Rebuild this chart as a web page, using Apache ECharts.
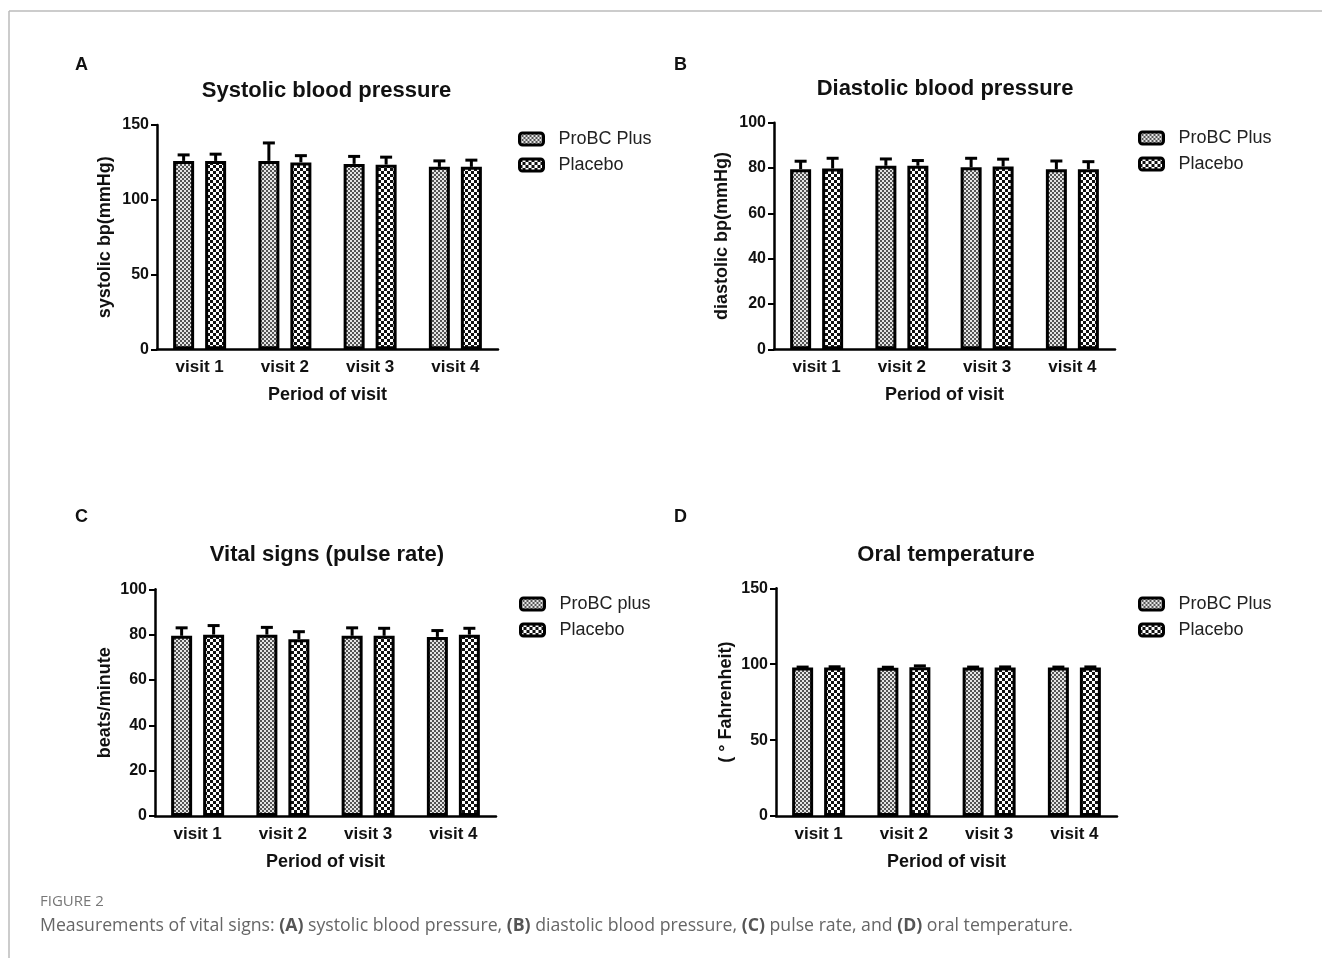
<!DOCTYPE html>
<html>
<head>
<meta charset="utf-8">
<script src="https://cdn.jsdelivr.net/npm/echarts@6/dist/echarts.min.js"></script>
<style>
html,body{margin:0;padding:0;background:#fff;}
#chart{width:1322px;height:958px;}
</style>
</head>
<body>
<div id="chart"></div>
<script>
// ---------- data ----------
const categories = ['visit 1', 'visit 2', 'visit 3', 'visit 4'];

const sysProbc      = [126, 126, 124, 122];
const sysProbcErr   = [4, 12, 5, 4];
const sysPlacebo    = [126, 125, 123.5, 122];
const sysPlaceboErr = [4.5, 4.5, 5, 4.5];

const diaProbc      = [79.5, 81, 80.3, 79.5];
const diaProbcErr   = [3.5, 3, 4, 3.6];
const diaPlacebo    = [79.8, 81, 80.7, 79.5];
const diaPlaceboErr = [4.5, 2.3, 3.2, 3.3];

const pulseProbc      = [79.5, 80, 79.5, 79];
const pulseProbcErr   = [3.5, 3.2, 3.5, 2.8];
const pulsePlacebo    = [80, 78, 79.5, 80];
const pulsePlaceboErr = [4, 3.3, 3.3, 2.8];

const tempProbc      = [97.8, 97.7, 97.8, 97.8];
const tempProbcErr   = [0.3, 0.3, 0.3, 0.3];
const tempPlacebo    = [97.9, 98.0, 97.8, 97.8];
const tempPlaceboErr = [0.4, 0.9, 0.4, 0.4];

const yTicksA = {min: 0, max: 150, interval: 50};
const yTicksB = {min: 0, max: 100, interval: 20};
const yTicksC = {min: 0, max: 100, interval: 20};
const yTicksD = {min: 0, max: 150, interval: 50};

// ---------- patterns ----------
function makePattern(size, cell, bg, fg) {
  const c = document.createElement('canvas');
  c.width = size; c.height = size;
  const g = c.getContext('2d');
  g.fillStyle = bg; g.fillRect(0, 0, size, size);
  g.fillStyle = fg;
  g.fillRect(0, 0, cell, cell);
  g.fillRect(cell, cell, cell, cell);
  return {image: c, repeat: 'repeat'};
}
const patProbc = makePattern(4, 2, '#e6e6e6', '#555');
const patPlacebo = makePattern(6, 3, '#ffffff', '#111');

// ---------- layout ----------
const FONT = '"Liberation Sans", Arial, sans-serif';
const CAPFONT = '"Open Sans", "Noto Sans", sans-serif';
const BW = 21, GAPPX = 11, BORDER = 3, CAP = 6;
const OFF = (BW + GAPPX) / 2;

const panels = [
  {letter: 'A', title: 'Systolic blood pressure', yname: 'systolic bp(mmHg)', ticks: yTicksA,
   grid: {left: 157, top: 125, width: 341, height: 224.3}, legend: {left: 518, top: 130},
   names: ['ProBC Plus', 'Placebo'], data: [sysProbc, sysPlacebo], err: [sysProbcErr, sysPlaceboErr], nameGap: 43},
  {letter: 'B', title: 'Diastolic blood pressure', yname: 'diastolic bp(mmHg)', ticks: yTicksB,
   grid: {left: 774, top: 122.7, width: 341, height: 226.6}, legend: {left: 1138, top: 129},
   names: ['ProBC Plus', 'Placebo'], data: [diaProbc, diaPlacebo], err: [diaProbcErr, diaPlaceboErr], nameGap: 43},
  {letter: 'C', title: 'Vital signs (pulse rate)', yname: 'beats/minute', ticks: yTicksC,
   grid: {left: 155, top: 589.3, width: 341, height: 226.7}, legend: {left: 519, top: 595},
   names: ['ProBC plus', 'Placebo'], data: [pulseProbc, pulsePlacebo], err: [pulseProbcErr, pulsePlaceboErr], nameGap: 41},
  {letter: 'D', title: 'Oral temperature', yname: '( \u00b0 Fahrenheit)', ticks: yTicksD,
   grid: {left: 776, top: 588.3, width: 341, height: 227.7}, legend: {left: 1138, top: 595},
   names: ['ProBC Plus', 'Placebo'], data: [tempProbc, tempPlacebo], err: [tempProbcErr, tempPlaceboErr], nameGap: 41}
];
const letterPos = [[75, 56], [674, 56], [75, 508], [674, 508]];
const titleCenter = [326.5, 945, 327, 946];
const titleTop = [80, 78, 544, 544];

function errRender(offset) {
  return function (params, api) {
    const cat = api.value(0), v = api.value(1), e = api.value(2);
    const p0 = api.coord([cat, v]);
    const p1 = api.coord([cat, v + e]);
    const cx = p0[0] + offset;
    return {
      type: 'group',
      children: [
        {type: 'line', shape: {x1: cx, y1: p0[1], x2: cx, y2: p1[1]}, style: {stroke: '#000', lineWidth: 3}},
        {type: 'line', shape: {x1: cx - CAP, y1: p1[1], x2: cx + CAP, y2: p1[1]}, style: {stroke: '#000', lineWidth: 3}}
      ]
    };
  };
}

const grids = [], xAxes = [], yAxes = [], series = [], legends = [], titles = [];
panels.forEach((p, i) => {
  grids.push(p.grid);
  xAxes.push({
    type: 'category', gridIndex: i, data: categories,
    name: 'Period of visit', nameLocation: 'middle', nameGap: 37,
    nameTextStyle: {fontFamily: FONT, fontWeight: 'bold', fontSize: 18, color: '#111'},
    axisLine: {lineStyle: {color: '#000', width: 2.5}},
    axisTick: {alignWithLabel: true, length: 6, lineStyle: {color: '#000', width: 2}},
    axisLabel: {fontFamily: FONT, fontWeight: 'bold', fontSize: 17, color: '#111', margin: 10}
  });
  yAxes.push({
    type: 'value', gridIndex: i, min: p.ticks.min, max: p.ticks.max, interval: p.ticks.interval,
    name: p.yname, nameLocation: 'middle', nameGap: p.nameGap, nameRotate: 90,
    nameTextStyle: {fontFamily: FONT, fontWeight: 'bold', fontSize: 18, color: '#111'},
    axisLine: {show: true, lineStyle: {color: '#000', width: 2.5}},
    axisTick: {show: true, length: 6, lineStyle: {color: '#000', width: 2}},
    axisLabel: {fontFamily: FONT, fontWeight: 'bold', fontSize: 16, color: '#111', margin: 8},
    splitLine: {show: false}
  });
  const pats = [patProbc, patPlacebo];
  p.names.forEach((nm, k) => {
    series.push({
      type: 'bar', name: nm, xAxisIndex: i, yAxisIndex: i,
      data: p.data[k], barWidth: BW, barGap: (GAPPX / BW * 100) + '%',
      itemStyle: {color: pats[k], borderColor: '#000', borderWidth: BORDER},
      emphasis: {disabled: true}, z: 3
    });
    series.push({
      type: 'custom', name: 'err' + i + k, xAxisIndex: i, yAxisIndex: i,
      renderItem: errRender(k === 0 ? -OFF : OFF),
      data: categories.map((c, j) => [j, p.data[k][j], p.err[k][j]]),
      z: 2, silent: true
    });
  });
  legends.push({
    left: p.legend.left, top: p.legend.top, orient: 'vertical', itemGap: 8, padding: 0,
    itemWidth: 24, itemHeight: 12, data: p.names, selectedMode: false,
    textStyle: {fontFamily: FONT, fontSize: 18, color: '#222', padding: [0, 0, 0, 10]},
    itemStyle: {borderColor: '#000', borderWidth: 3}
  });
  titles.push({
    text: p.title, left: titleCenter[i], top: titleTop[i], textAlign: 'center', padding: 0,
    textStyle: {fontFamily: FONT, fontWeight: 'bold', fontSize: 22, color: '#111'}
  });
  titles.push({
    text: p.letter, left: letterPos[i][0], top: letterPos[i][1], padding: 0,
    textStyle: {fontFamily: FONT, fontWeight: 'bold', fontSize: 18, color: '#111'}
  });
});
titles.push({
  text: 'FIGURE 2', left: 40, top: 894, padding: 0,
  textStyle: {fontFamily: CAPFONT, fontWeight: 'normal', fontSize: 15, color: '#777'}
});
titles.push({
  text: 'Measurements of vital signs: {b|(A)} systolic blood pressure, {b|(B)} diastolic blood pressure, {b|(C)} pulse rate, and {b|(D)} oral temperature.',
  left: 40, top: 917, padding: 0,
  textStyle: {fontFamily: CAPFONT, fontWeight: 'normal', fontSize: 17.7, color: '#666',
    rich: {b: {fontFamily: CAPFONT, fontWeight: 'bold', fontSize: 17.7, color: '#555'}}}
});

const chart = echarts.init(document.getElementById('chart'));
chart.setOption({
  animation: false,
  backgroundColor: '#fff',
  title: titles,
  grid: grids,
  xAxis: xAxes,
  yAxis: yAxes,
  legend: legends,
  series: series,
  graphic: [
    {type: 'line', shape: {x1: 9, y1: 11, x2: 1322, y2: 11}, style: {stroke: '#bbb', lineWidth: 1.5}},
    {type: 'line', shape: {x1: 9, y1: 11, x2: 9, y2: 958}, style: {stroke: '#bbb', lineWidth: 1.5}}
  ]
});
</script>
</body>
</html>
